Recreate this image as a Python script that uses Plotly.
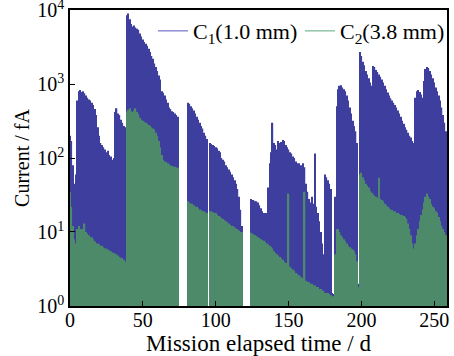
import plotly.graph_objects as go

N = None
days = list(range(0, 259))

c1 = [
    # 0-9
    200, 170, 80, 45, 60, 600, 800, 830, 780, 800,
    # 10-19
    750, 700, 650, 620, 600, 560, 520, 460, 380, 260,
    # 20-29
    200, 160, 150, 140, 130, 120, 125, 110, 105, 95,
    # 30-39
    100, 420, 470, 400, 380, 330, 300, 270, 260, 8500,
    # 40-49
    9000, 7500, 6500, 6000, 6200, 5800, 5600, 5400, 4800, 4400,
    # 50-59
    4000, 3700, 3500, 3300, 3000, 2700, 2400, 2200, 1900, 1700,
    # 60-69
    1500, 1300, 1150, 800, 760, 700, 620, 560, 480, 460,
    # 70-79
    430, 420, 400, 380, 360, N, N, N, N, N,
    # 80-89
    N, 560, 540, 500, 470, 440, 400, 360, 330, 300,
    # 90-99
    270, 250, 220, 200, 180, N, 160, 155, 150, 145,
    # 100-109
    140, 135, 125, 120, 100, 95, 90, 80, 75, 70,
    # 110-119
    65, 60, 55, 50, 45, 38, 30, 20, 12, N,
    # 120-129
    N, N, N, N, 28, 27, 27, 26, 26, 25,
    # 130-139
    23, 21, 19, 18, 18, 18, 40, 85, 120, 300,
    # 140-149
    160, 150, 130, 170, 160, 165, 175, 170, 150, 140,
    # 150-159
    130, 120, 115, 105, 100, 90, 85, 85, 80, 80,
    # 160-169
    85, 75, 45, 35, 28, 25, 30, 24, 115, 22,
    # 170-179
    18, 14, 10, 7, 5, 60, 55, 50, 45, 38,
    # 180-189
    1.5, 1.45, 30, 500, 850, 950, 960, 900, 850, 800,
    # 190-199
    700, 600, 480, 400, 320, 270, 230, 160, 2.0, 2700,
    # 200-209
    2400, 2000, 1800, 1500, 1350, 1200, 1050, 950, 1750, 1700,
    # 210-219
    1550, 1450, 1350, 1250, 1150, 1050, 950, 850, 770, 700,
    # 220-229
    640, 600, 560, 520, 480, 440, 400, 360, 320, 290,
    # 230-239
    260, 240, 220, 200, 190, 170, 160, 650, 800, 830,
    # 240-249
    780, 720, 650, 1100, 1600, 1700, 1650, 1500, 1350, 1200,
    # 250-258
    1050, 900, 800, 700, 600, 480, 380, 300, 230,
]

c2 = [
    # 0-9
    35, 22, 12, 8, 7, 11, 12, 11, 11, 10,
    # 10-19
    13, 10, 9.5, 9, 8.5, 8.5, 8, 7.5, 7, 7,
    # 20-29
    6.8, 6.5, 6.5, 6.2, 6, 6, 5.8, 5.6, 5.5, 5.3,
    # 30-39
    5.2, 5, 5, 4.8, 4.6, 4.5, 4.4, 4.2, 4.0, 420,
    # 40-49
    450, 470, 430, 420, 440, 470, 420, 390, 350, 330,
    # 50-59
    320, 310, 300, 290, 280, 270, 260, 250, 240, 220,
    # 60-69
    200, 170, 140, 110, 95, 90, 88, 85, 82, 80,
    # 70-79
    78, 77, 76, 75, 74, N, N, N, N, N,
    # 80-89
    N, 26, 25, 24, 24, 23, 22, 22, 21, 20,
    # 90-99
    20, 19, 19, 18.5, 18, N, 19, 19, 18.5, 18,
    # 100-109
    18, 17, 16.5, 16, 15.5, 15, 14.5, 14, 13.5, 13,
    # 110-119
    12.5, 12, 12, 11.5, 11, 11, 10.5, 10, 10, N,
    # 120-129
    N, N, N, N, 9.8, 9.5, 9.3, 9, 8.8, 8.5,
    # 130-139
    8.3, 8, 7.8, 7.6, 7.3, 7, 6.8, 6.5, 6.2, 6,
    # 140-149
    5.5, 5.2, 5, 4.8, 4.6, 4.4, 4.2, 4, 3.8, 3.6,
    # 150-159
    33, 3.4, 3.2, 3.1, 3, 2.8, 2.7, 2.6, 2.5, 2.4,
    # 160-169
    2.3, 35, 2.2, 2.1, 2.1, 2, 2, 1.9, 1.9, 1.8,
    # 170-179
    1.8, 1.7, 1.7, 1.6, 1.6, 1.5, 1.5, 1.5, 1.45, 1.4,
    # 180-189
    1.35, 1.35, 5, 11, 11, 10, 9, 8.5, 8, 7.5,
    # 190-199
    7, 6.5, 6.2, 6, 5.8, 5.5, 5, 4, 1.8, 60,
    # 200-209
    63, 55, 50, 45, 42, 40, 36, 34, 32, 31,
    # 210-219
    30, 29, 54, 28, 27, 26, 24, 23, 22, 21,
    # 220-229
    20, 20, 19, 19, 18, 18, 17.5, 17, 17, 16.5,
    # 230-239
    16, 15, 13, 11, 9, 7, 6, 7, 9, 11,
    # 240-249
    14, 17, 20, 25, 30, 33, 30, 28, 24, 22,
    # 250-258
    21, 19, 18, 16, 14, 12, 11, 10, 9,
]

names = ["C<sub>1</sub>(1.0 mm)", "C<sub>2</sub>(3.8 mm)"]
fill_colors = ["#3e3e9e", "#4d8a6a"]
legend_colors = ["#8f8fd6", "#8fc4a8"]

y_tickvals = [1, 10, 100, 1000, 10000]
y_ticktext = ["10<sup>0</sup>", "10<sup>1</sup>", "10<sup>2</sup>", "10<sup>3</sup>", "10<sup>4</sup>"]
x_tickvals = [0, 50, 100, 150, 200, 250]

font_family = "Liberation Serif"

fig = go.Figure()
for vals, col in zip([c1, c2], fill_colors):
    fig.add_trace(go.Bar(x=days, y=vals, marker=dict(color=col, line=dict(width=0)),
                         showlegend=False))
for name, col in zip(names, legend_colors):
    fig.add_trace(go.Scatter(x=[None], y=[None], mode="lines", name=name,
                             line=dict(color=col, width=1.5)))

fig.update_layout(
    width=454, height=356,
    margin=dict(l=70, r=7, t=10, b=50),
    paper_bgcolor="white", plot_bgcolor="white",
    barmode="overlay", bargap=0.12,
    font=dict(family=font_family, size=20, color="black"),
    legend=dict(orientation="h", x=0.22, xanchor="left", y=1.0, yanchor="top",
                bgcolor="rgba(0,0,0,0)", font=dict(family=font_family, size=22),
                itemwidth=30, tracegroupgap=0, entrywidth=102, entrywidthmode="pixels"),
)
fig.update_xaxes(range=[0, 258.7], tickvals=x_tickvals, ticks="inside", ticklen=5,
                 tickwidth=1.2, tickcolor="black", showline=True, linecolor="black",
                 linewidth=1.5, mirror=True, showgrid=False, zeroline=False,
                 automargin=False, ticklabeloverflow="allow", ticklabelstandoff=-5,
                 title=dict(text="Mission elapsed time / d", standoff=0,
                            font=dict(family=font_family, size=23)),
                 tickfont=dict(family=font_family, size=20))
fig.update_yaxes(type="log", range=[-0.0005, 4.0005], tickvals=y_tickvals, ticktext=y_ticktext,
                 ticks="inside", ticklen=5, tickwidth=1.2, tickcolor="black",
                 showline=True, linecolor="black", linewidth=1.5, mirror=True,
                 showgrid=False, zeroline=False, automargin=False, ticklabeloverflow="allow",
                 title=dict(text="Current / fA", standoff=2,
                            font=dict(family=font_family, size=20)),
                 tickfont=dict(family=font_family, size=20))

fig.write_html("out.html", config={"displayModeBar": False},
               post_script="document.body.style.margin='0px';")
